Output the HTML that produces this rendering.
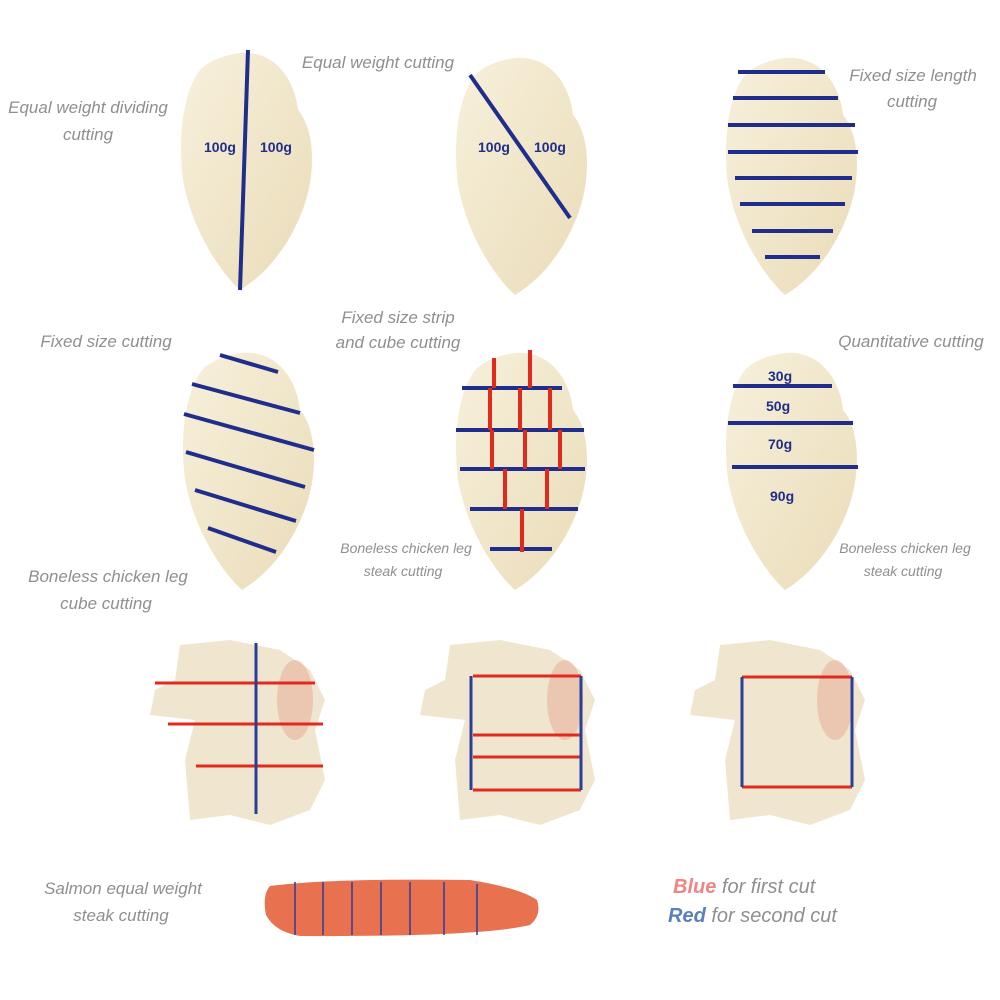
<!DOCTYPE html>
<html><head><meta charset="utf-8"><style>
html,body{margin:0;padding:0;background:#fff;}
svg{display:block}
text{font-family:"Liberation Sans",sans-serif;font-style:italic;fill:#8f8f8f;}
</style></head><body>
<svg width="1000" height="1000" viewBox="0 0 1000 1000" xmlns="http://www.w3.org/2000/svg">
<defs>
<path id="br" d="M60,3 C95,0 115,30 118,60 C135,80 135,120 126,150 C112,195 85,225 60,240 C40,222 12,180 3,130 C-3,80 5,40 20,20 C30,10 45,5 60,3 Z"/>
<path id="leg" d="M30,5 L80,0 L130,10 L160,30 L175,60 L165,90 L175,140 L160,170 L120,185 L80,175 L40,180 L35,120 L45,80 L0,75 L5,50 L25,40 Z"/>
<linearGradient id="bg" x1="0" y1="0" x2="1" y2="1"><stop offset="0" stop-color="#f7f0dc"/><stop offset="1" stop-color="#eadcb8"/></linearGradient>
</defs>
<g fill="url(#bg)">
<use href="#br" transform="translate(180,50)"/>
<use href="#br" transform="translate(455,55)"/>
<use href="#br" transform="translate(725,55)"/>
<use href="#br" transform="translate(182,350)"/>
<use href="#br" transform="translate(455,350)"/>
<use href="#br" transform="translate(725,350)"/>
</g>
<g fill="#f0e6d0">
<use href="#leg" transform="translate(150,640)"/>
<use href="#leg" transform="translate(420,640)"/>
<use href="#leg" transform="translate(690,640)"/>
</g>
<g fill="#e6a58f" opacity="0.5">
<ellipse cx="295" cy="700" rx="18" ry="40"/><ellipse cx="565" cy="700" rx="18" ry="40"/><ellipse cx="835" cy="700" rx="18" ry="40"/>
</g>
<path d="M270,886 Q330,878 470,880 Q520,888 537,900 Q542,915 530,925 Q480,937 300,936 Q275,932 266,915 Q262,895 270,886 Z" fill="#e8714f"/>
<g stroke="#1f2e8a" stroke-width="4" fill="none">
<line x1="248" y1="50" x2="240" y2="290"/>
<line x1="470" y1="75" x2="570" y2="218"/>
<line x1="738" y1="72" x2="825" y2="72"/><line x1="733" y1="98" x2="838" y2="98"/>
<line x1="728" y1="125" x2="855" y2="125"/><line x1="728" y1="152" x2="858" y2="152"/>
<line x1="735" y1="178" x2="852" y2="178"/><line x1="740" y1="204" x2="845" y2="204"/>
<line x1="752" y1="231" x2="833" y2="231"/><line x1="765" y1="257" x2="820" y2="257"/>
<line x1="220" y1="355" x2="278" y2="372"/><line x1="192" y1="384" x2="300" y2="413"/>
<line x1="184" y1="414" x2="314" y2="450"/><line x1="186" y1="452" x2="305" y2="487"/>
<line x1="195" y1="490" x2="296" y2="521"/><line x1="208" y1="528" x2="276" y2="552"/>
<line x1="462" y1="388" x2="562" y2="388"/><line x1="456" y1="430" x2="584" y2="430"/>
<line x1="460" y1="469" x2="585" y2="469"/><line x1="470" y1="509" x2="578" y2="509"/>
<line x1="490" y1="549" x2="552" y2="549"/>
<line x1="733" y1="386" x2="832" y2="386"/><line x1="728" y1="423" x2="853" y2="423"/>
<line x1="732" y1="467" x2="858" y2="467"/>
</g>
<g stroke="#e02a1e" stroke-width="4">
<line x1="530" y1="350" x2="530" y2="388"/><line x1="494" y1="358" x2="494" y2="388"/>
<line x1="490" y1="388" x2="490" y2="430"/><line x1="520" y1="388" x2="520" y2="430"/><line x1="550" y1="388" x2="550" y2="430"/>
<line x1="492" y1="430" x2="492" y2="469"/><line x1="525" y1="430" x2="525" y2="469"/><line x1="560" y1="430" x2="560" y2="469"/>
<line x1="505" y1="469" x2="505" y2="509"/><line x1="547" y1="469" x2="547" y2="509"/>
<line x1="522" y1="509" x2="522" y2="552"/>
</g>
<g font-size="14" font-weight="bold">
<text x="204" y="152" style="font-style:normal;fill:#1f2e8a">100g</text><text x="260" y="152" style="font-style:normal;fill:#1f2e8a">100g</text>
<text x="478" y="152" style="font-style:normal;fill:#1f2e8a">100g</text><text x="534" y="152" style="font-style:normal;fill:#1f2e8a">100g</text>
<text x="768" y="381" style="font-style:normal;fill:#1f2e8a">30g</text><text x="766" y="411" style="font-style:normal;fill:#1f2e8a">50g</text>
<text x="768" y="449" style="font-style:normal;fill:#1f2e8a">70g</text><text x="770" y="501" style="font-style:normal;fill:#1f2e8a">90g</text>
</g>
<g stroke="#e02a1e" stroke-width="3">
<line x1="155" y1="683" x2="315" y2="683"/><line x1="168" y1="724" x2="323" y2="724"/><line x1="196" y1="766" x2="323" y2="766"/>
<line x1="473" y1="676" x2="581" y2="676"/><line x1="473" y1="735" x2="581" y2="735"/><line x1="473" y1="757" x2="581" y2="757"/><line x1="473" y1="790" x2="581" y2="790"/>
<line x1="742" y1="677" x2="852" y2="677"/><line x1="742" y1="787" x2="852" y2="787"/>
</g>
<g stroke="#2a3f9a" stroke-width="3">
<line x1="256" y1="643" x2="256" y2="814"/>
<line x1="471" y1="676" x2="471" y2="790"/><line x1="581" y1="676" x2="581" y2="790"/>
<line x1="742" y1="677" x2="742" y2="787"/><line x1="852" y1="677" x2="852" y2="787"/>
</g>
<g stroke="#2a3f9a" stroke-width="1.5">
<line x1="295" y1="882" x2="295" y2="935"/><line x1="323" y1="882" x2="323" y2="935"/><line x1="352" y1="882" x2="352" y2="935"/>
<line x1="381" y1="882" x2="381" y2="935"/><line x1="410" y1="882" x2="410" y2="935"/><line x1="444" y1="882" x2="444" y2="935"/><line x1="477" y1="884" x2="477" y2="935"/>
</g>
<g font-size="17">
<text x="88" y="113" text-anchor="middle">Equal weight dividing</text><text x="88" y="140" text-anchor="middle">cutting</text>
<text x="378" y="68" text-anchor="middle">Equal weight cutting</text>
<text x="913" y="81" text-anchor="middle">Fixed size length</text><text x="912" y="107" text-anchor="middle">cutting</text>
<text x="106" y="347" text-anchor="middle">Fixed size cutting</text>
<text x="398" y="323" text-anchor="middle">Fixed size strip</text><text x="398" y="348" text-anchor="middle">and cube cutting</text>
<text x="911" y="347" text-anchor="middle">Quantitative cutting</text>
<text x="108" y="582" text-anchor="middle">Boneless chicken leg</text><text x="106" y="609" text-anchor="middle">cube cutting</text>
<text x="123" y="894" text-anchor="middle">Salmon equal weight</text><text x="121" y="921" text-anchor="middle">steak cutting</text>
</g>
<g font-size="14">
<text x="406" y="553" text-anchor="middle">Boneless chicken leg</text><text x="403" y="576" text-anchor="middle">steak cutting</text>
<text x="905" y="553" text-anchor="middle">Boneless chicken leg</text><text x="903" y="576" text-anchor="middle">steak cutting</text>
</g>
<g font-size="20">
<text x="673" y="893"><tspan style="fill:#f08585;font-weight:bold">Blue</tspan> for first cut</text>
<text x="668" y="922"><tspan style="fill:#5b7ec0;font-weight:bold">Red</tspan> for second cut</text>
</g>
</svg>
</body></html>
